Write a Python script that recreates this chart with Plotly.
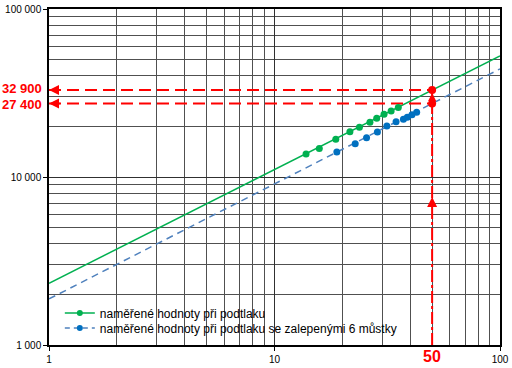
import numpy as np
import plotly.graph_objects as go

# ---- data ----
green_x = [13.8, 15.8, 18.7, 21.6, 23.8, 26.5, 28.4, 30.6, 32.9, 35.4]
green_y = [13700, 14800, 16800, 18600, 19800, 21200, 22400, 23600, 24700, 25900]
blue_x = [18.9, 22.8, 25.6, 28.6, 31.5, 34.6, 37.3, 38.8, 40.7, 42.7]
blue_y = [14100, 15800, 17100, 18500, 20100, 21300, 22100, 22700, 23500, 24300]
trend_x = [1, 100]
green_trend = [2330, 52600]
blue_trend = [1880, 44000]
target_x = 50
target_values = [32900, 27400]
target_labels = ["32 900", "27 400"]
arrow_mid_y = 7600

x_major = [1, 10, 100]
x_major_text = ["1", "10", "100"]
x_minor = [m * d for d in (1, 10) for m in range(2, 10)]
y_major = [1000, 10000, 100000]
y_major_text = ["1 000", "10 000", "100 000"]
y_minor = [m * d for d in (1000, 10000) for m in range(2, 10)]

names = ["naměřené hodnoty při podtlaku",
         "naměřené hodnoty při podtlaku se zalepenými 6 můstky"]

GREEN = "#00B050"
BLUE_PT = "#0070C0"
BLUE_LN = "#4F81BD"
RED = "#FF0000"
FONT = "Liberation Sans"

fig = go.Figure()

# trend lines
fig.add_trace(go.Scatter(x=trend_x, y=green_trend, mode="lines",
                         line=dict(color=GREEN, width=1.5), showlegend=False))
fig.add_trace(go.Scatter(x=trend_x, y=blue_trend, mode="lines",
                         line=dict(color=BLUE_LN, width=1.5, dash="7px,5px"),
                         showlegend=False))

# red guide lines
for v in target_values:
    fig.add_trace(go.Scatter(x=[trend_x[0], target_x], y=[v, v], mode="lines",
                             line=dict(color=RED, width=2, dash="12px,6px"),
                             showlegend=False))
fig.add_trace(go.Scatter(x=[target_x, target_x], y=[y_major[0], target_values[1]],
                         mode="lines",
                         line=dict(color=RED, width=2, dash="12px,3px,3px,3px"),
                         showlegend=False))
fig.add_trace(go.Scatter(x=[target_x, target_x], y=target_values, mode="lines",
                         line=dict(color=RED, width=2), showlegend=False))

# points
fig.add_trace(go.Scatter(x=green_x, y=green_y, mode="markers",
                         marker=dict(color=GREEN, size=7), showlegend=False))
fig.add_trace(go.Scatter(x=blue_x, y=blue_y, mode="markers",
                         marker=dict(color=BLUE_PT, size=7), showlegend=False))
fig.add_trace(go.Scatter(x=[target_x] * 2, y=target_values, mode="markers",
                         marker=dict(color=RED, size=8), showlegend=False))

# legend entries (two legends so the rows sit close together)
fig.add_trace(go.Scatter(x=[None], y=[None], mode="lines+markers", name=names[0],
                         line=dict(color=GREEN, width=1.5),
                         marker=dict(color=GREEN, size=6), legend="legend"))
fig.add_trace(go.Scatter(x=[None], y=[None], mode="lines+markers", name=names[1],
                         line=dict(color=BLUE_LN, width=1.5, dash="5px,4px"),
                         marker=dict(color=BLUE_PT, size=6), legend="legend2"))

lx = np.log10(target_x)
anns = []
for v in target_values:
    anns.append(dict(x=0, y=np.log10(v), xref="x", yref="y", ax=12, ay=0,
                     showarrow=True, arrowhead=2, arrowsize=1, arrowwidth=2,
                     arrowcolor=RED, text=""))
anns.append(dict(x=lx, y=np.log10(arrow_mid_y), xref="x", yref="y", ax=0, ay=10,
                 showarrow=True, arrowhead=2, arrowsize=1, arrowwidth=2,
                 arrowcolor=RED, text=""))
anns.append(dict(x=lx, y=np.log10(target_values[0]), xref="x", yref="y",
                 ax=lx, ay=np.log10(target_values[1]), axref="x", ayref="y",
                 showarrow=True, arrowhead=2, arrowsize=0.8, arrowwidth=2,
                 arrowcolor=RED, standoff=3, text=""))
for v, t, s in zip(target_values, target_labels, (1.5, -1.5)):
    anns.append(dict(x=0, y=np.log10(v), xref="paper", yref="y", xanchor="right",
                     xshift=-5, yshift=s, showarrow=False, text=t,
                     font=dict(family=FONT, size=13, color=RED, weight="bold")))
anns.append(dict(x=lx, y=0, xref="x", yref="paper", yanchor="top", yshift=-1,
                 showarrow=False, text=str(target_x),
                 font=dict(family=FONT, size=16, color=RED, weight="bold")))

leg_common = dict(x=0.024, xanchor="left", yanchor="middle",
                  bgcolor="rgba(0,0,0,0)",
                  font=dict(family=FONT, size=12, color="black"),
                  itemwidth=30)

fig.update_layout(
    width=512, height=368,
    margin=dict(l=49, r=12, t=9, b=23, autoexpand=False),
    paper_bgcolor="white", plot_bgcolor="white",
    font=dict(family=FONT, size=10, color="black"),
    annotations=anns,
    shapes=[dict(type="rect", xref="paper", yref="paper", x0=0.002, x1=0.805,
                 y0=0.024, y1=0.142, fillcolor="white", line=dict(width=0),
                 layer="between")],
    legend=dict(y=0.0952, **leg_common),
    legend2=dict(y=0.0506, **leg_common),
    xaxis=dict(type="log", range=[0, 2], tickmode="array", tickvals=x_major,
               ticktext=x_major_text, ticks="outside", ticklen=4,
               tickcolor="black", showgrid=True, gridcolor="#303030", gridwidth=1,
               showline=True, linecolor="black", linewidth=1.5, mirror=True,
               zeroline=False, automargin=False,
               minor=dict(tickmode="array", tickvals=x_minor, showgrid=True,
                          gridcolor="#505050", gridwidth=1, ticks="")),
    yaxis=dict(type="log", range=[3, 5], tickmode="array", tickvals=y_major,
               ticktext=y_major_text, ticks="outside", ticklen=4,
               tickcolor="black", showgrid=True, gridcolor="#303030", gridwidth=1,
               showline=True, linecolor="black", linewidth=1.5, mirror=True,
               zeroline=False, automargin=False,
               minor=dict(tickmode="array", tickvals=y_minor, showgrid=True,
                          gridcolor="#505050", gridwidth=1, ticks="")),
)

fig.write_html("out.html", config={"displayModeBar": False},
               post_script="document.body.style.margin='0';"
                           "document.body.style.overflow='hidden';")
